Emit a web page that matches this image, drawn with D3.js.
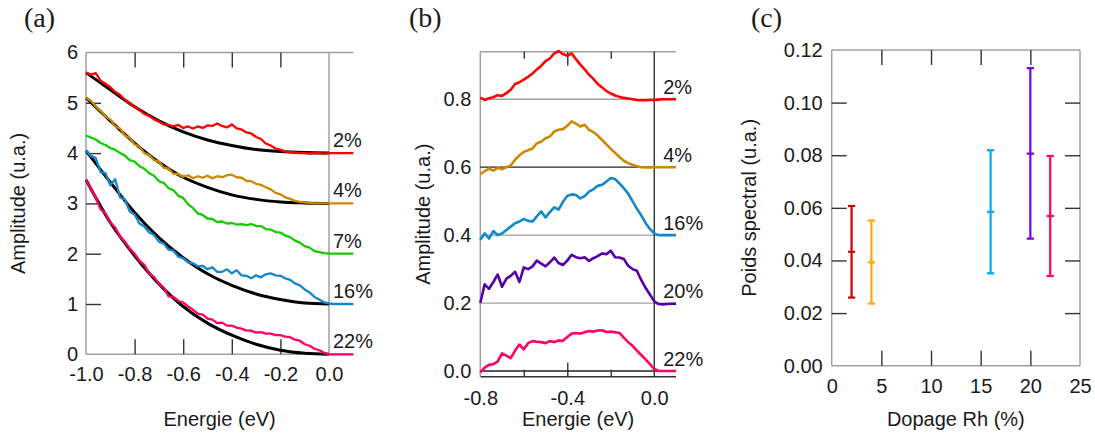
<!DOCTYPE html>
<html><head><meta charset="utf-8">
<script src="https://cdn.jsdelivr.net/npm/d3@7"></script>
<style>
html,body{margin:0;padding:0;background:#fff;}
svg{display:block;}
</style></head><body>
<svg id="chart" width="1095" height="439"></svg>
<script>
// ---------------- DATA ----------------
// Panel (a): raw spectra (offset by baseline) and fits
const energyA = [-1.00,-0.98,-0.96,-0.94,-0.92,-0.90,-0.88,-0.86,-0.84,-0.82,-0.80,-0.78,-0.76,-0.74,-0.72,-0.70,-0.68,-0.66,-0.64,-0.62,-0.60,-0.58,-0.56,-0.54,-0.52,-0.50,-0.48,-0.46,-0.44,-0.42,-0.40,-0.38,-0.36,-0.34,-0.32,-0.30,-0.28,-0.26,-0.24,-0.22,-0.20,-0.18,-0.16,-0.14,-0.12,-0.10,-0.08,-0.06,-0.04,-0.02,0.00,0.02,0.04,0.06,0.08,0.10];
const specA2 = [5.60,5.56,5.59,5.44,5.38,5.31,5.22,5.16,5.06,4.99,4.92,4.86,4.78,4.74,4.67,4.63,4.57,4.56,4.53,4.56,4.50,4.53,4.49,4.53,4.50,4.55,4.54,4.59,4.54,4.51,4.57,4.49,4.47,4.41,4.39,4.32,4.28,4.19,4.15,4.09,4.07,4.03,4.02,4.01,4.00,4.00,3.99,4.00,4.00,3.99,4.00,4.00,4.00,4.00,4.00,4.00];
const specA4 = [5.10,5.04,4.93,4.84,4.73,4.67,4.53,4.49,4.35,4.30,4.17,4.13,4.00,3.96,3.86,3.83,3.71,3.69,3.59,3.58,3.53,3.56,3.50,3.54,3.51,3.55,3.50,3.54,3.52,3.56,3.57,3.52,3.51,3.45,3.44,3.39,3.37,3.32,3.28,3.21,3.18,3.12,3.09,3.05,3.03,3.02,3.01,3.00,3.00,3.00,3.00,3.00,3.00,3.00,3.00,3.00];
const specA7 = [4.35,4.31,4.27,4.20,4.16,4.10,4.07,4.00,3.95,3.86,3.83,3.74,3.69,3.60,3.55,3.44,3.41,3.30,3.26,3.15,3.11,2.98,2.91,2.80,2.77,2.70,2.69,2.63,2.64,2.60,2.61,2.58,2.59,2.57,2.59,2.55,2.55,2.49,2.48,2.43,2.42,2.36,2.33,2.26,2.22,2.15,2.12,2.05,2.03,2.01,2.00,2.00,2.00,2.00,2.00,2.00];
const specA16 = [4.05,3.95,3.90,3.62,3.60,3.36,3.48,3.12,3.08,2.84,2.78,2.60,2.54,2.42,2.37,2.24,2.20,2.08,2.06,1.94,1.91,1.83,1.81,1.75,1.76,1.69,1.73,1.64,1.64,1.69,1.61,1.67,1.57,1.56,1.51,1.57,1.53,1.59,1.61,1.57,1.56,1.51,1.48,1.41,1.37,1.29,1.23,1.14,1.09,1.03,1.01,1.00,1.00,1.00,1.00,1.00];
const specA22 = [3.47,3.30,3.12,2.88,2.80,2.62,2.52,2.34,2.24,2.10,2.00,1.86,1.78,1.60,1.54,1.40,1.32,1.15,1.14,1.06,1.03,0.95,0.89,0.81,0.79,0.71,0.69,0.62,0.63,0.57,0.57,0.53,0.51,0.47,0.47,0.43,0.44,0.41,0.41,0.38,0.38,0.35,0.34,0.29,0.27,0.20,0.17,0.11,0.08,0.03,0.00,0.00,0.00,0.00,0.00,0.00];
const fitE = [-1.0,-0.9,-0.8,-0.7,-0.6,-0.5,-0.4,-0.3,-0.2,-0.1,0.0];
const fitA2 = [5.60,5.26,4.92,4.64,4.42,4.26,4.15,4.07,4.03,4.01,4.00];
const fitA4 = [5.10,4.64,4.20,3.82,3.52,3.32,3.17,3.08,3.03,3.01,3.00];
const fitA16 = [4.05,3.42,2.82,2.32,1.92,1.60,1.37,1.20,1.09,1.02,1.00];
const fitA22 = [3.47,2.62,1.96,1.40,0.95,0.62,0.38,0.20,0.08,0.02,0.00];
const labelsA = ["2%","4%","7%","16%","22%"];
const baseA = [4,3,2,1,0];
const ticksAy = [0,1,2,3,4,5,6];
const ticksAx = [-1.0,-0.8,-0.6,-0.4,-0.2,0.0];

// Panel (b): difference spectra
const energyB = [-0.80,-0.78,-0.76,-0.74,-0.72,-0.70,-0.68,-0.66,-0.64,-0.62,-0.60,-0.58,-0.56,-0.54,-0.52,-0.50,-0.48,-0.46,-0.44,-0.42,-0.40,-0.38,-0.36,-0.34,-0.32,-0.30,-0.28,-0.26,-0.24,-0.22,-0.20,-0.18,-0.16,-0.14,-0.12,-0.10,-0.08,-0.06,-0.04,-0.02,0.00,0.02,0.04,0.06,0.08,0.10];
const specB2 = [0.805,0.798,0.803,0.806,0.812,0.810,0.818,0.828,0.845,0.850,0.858,0.866,0.876,0.888,0.898,0.912,0.920,0.935,0.942,0.933,0.928,0.935,0.918,0.902,0.888,0.872,0.860,0.845,0.835,0.824,0.817,0.811,0.807,0.804,0.802,0.800,0.798,0.797,0.797,0.798,0.798,0.799,0.800,0.800,0.800,0.800];
const specB4 = [0.580,0.588,0.596,0.590,0.598,0.594,0.600,0.605,0.622,0.635,0.645,0.650,0.655,0.670,0.675,0.685,0.690,0.705,0.710,0.712,0.722,0.735,0.728,0.720,0.725,0.710,0.703,0.693,0.680,0.667,0.654,0.642,0.630,0.619,0.612,0.607,0.603,0.600,0.599,0.599,0.600,0.600,0.600,0.600,0.600,0.600];
const specB16 = [0.386,0.405,0.390,0.412,0.400,0.405,0.415,0.425,0.435,0.440,0.448,0.442,0.440,0.455,0.470,0.452,0.468,0.482,0.475,0.498,0.515,0.520,0.518,0.508,0.515,0.528,0.535,0.545,0.548,0.558,0.568,0.565,0.552,0.538,0.522,0.500,0.478,0.458,0.436,0.418,0.405,0.400,0.400,0.400,0.400,0.400];
const specB20 = [0.200,0.255,0.242,0.262,0.284,0.248,0.272,0.280,0.292,0.262,0.305,0.300,0.308,0.325,0.316,0.308,0.320,0.334,0.318,0.312,0.325,0.342,0.335,0.332,0.335,0.324,0.332,0.338,0.346,0.344,0.354,0.335,0.334,0.330,0.310,0.300,0.295,0.268,0.245,0.225,0.205,0.197,0.196,0.197,0.198,0.198];
const specB22 = [-0.004,0.010,0.018,0.020,0.028,0.052,0.045,0.038,0.060,0.078,0.064,0.082,0.088,0.086,0.085,0.082,0.088,0.085,0.090,0.089,0.100,0.110,0.112,0.110,0.114,0.118,0.116,0.119,0.120,0.115,0.116,0.114,0.112,0.098,0.085,0.074,0.060,0.047,0.034,0.020,0.006,0.000,0.000,0.000,0.000,0.000];
const labelsB = ["2%","4%","16%","20%","22%"];
const baseB = [0.8,0.6,0.4,0.2,0.0];
const ticksBy = [0.0,0.2,0.4,0.6,0.8];
const ticksBx = [-0.8,-0.4,0.0];

// Panel (c): spectral weight vs doping
const dopage = [2,4,16,20,22];
const poids = [0.0433,0.0393,0.0585,0.0806,0.0569];
const poidsLow = [0.0259,0.0236,0.0351,0.0483,0.0341];
const poidsHigh = [0.0607,0.0552,0.0819,0.1131,0.0797];
const ticksCy = [0.00,0.02,0.04,0.06,0.08,0.10,0.12];
const ticksCx = [0,5,10,15,20,25];

// ---------------- STYLE ----------------
const colorsA = ["#ff0000","#cc8800","#11cc00","#1188cc","#ff0066"];
const colorsB = ["#ff0000","#cc8800","#1188cc","#5500aa","#ff0066"];
const colorsC = ["#cc0000","#ffaa00","#00aaff","#7700ee","#ff0066"];
const FONT = "'Liberation Sans', Arial, sans-serif";
const SERIF = "'Liberation Serif', 'Times New Roman', serif";
const FS = 20;
const FRAME = "#a0a0a0";
const TICK = "#333";

const svg = d3.select("#chart");
svg.append("rect").attr("width",1095).attr("height",439).attr("fill","#fff");

function styleLabels(g){
  g.select(".domain").remove();
  g.selectAll(".tick line").remove();
  g.selectAll("text").attr("font-size",FS).attr("font-family",FONT).attr("fill","#1a1a1a");
}
function styleTicks(g){
  g.select(".domain").remove();
  g.selectAll("text").remove();
  g.selectAll(".tick line").attr("stroke",TICK).attr("stroke-width",1.4);
}
function hline(y, x0, x1, col, w){
  svg.append("line").attr("x1",x0).attr("x2",x1).attr("y1",y).attr("y2",y).attr("stroke",col).attr("stroke-width",w);
}
function vline(x, y0, y1, col, w){
  svg.append("line").attr("x1",x).attr("x2",x).attr("y1",y0).attr("y2",y1).attr("stroke",col).attr("stroke-width",w);
}
function title(txt, x, y, rot){
  const t = svg.append("text").text(txt).attr("font-family",FONT).attr("font-size",FS).attr("fill","#1a1a1a").attr("text-anchor","middle");
  if (rot) t.attr("transform",`translate(${x},${y}) rotate(-90)`);
  else t.attr("x",x).attr("y",y);
}
function panelLabel(txt, x, y){
  svg.append("text").text(txt).attr("x",x).attr("y",y).attr("font-family",SERIF).attr("font-size",28).attr("fill","#1a1a1a");
}
const fmt1 = d => d.toFixed(1);

// ---------------- PANEL (a) ----------------
const xA = d3.scaleLinear().domain([-1.0, 0.1]).range([86, 353.3]);
const yA = d3.scaleLinear().domain([0, 6]).range([354.3, 52.5]);
const [aL, aR] = xA.range(); const [aB, aT] = yA.range();
hline(aT, aL, aR, FRAME, 1.5);
hline(aB, aL, aR, FRAME, 1.5);
vline(aL, aT, aB, FRAME, 1.5);
vline(xA(0), aT, aB, FRAME, 1.5);

svg.append("g").attr("transform",`translate(${aL},0)`)
  .call(d3.axisLeft(yA).tickValues(ticksAy).tickSize(0).tickPadding(8).tickFormat(d3.format("d"))).call(styleLabels);
svg.append("g").attr("transform",`translate(${aL},0)`)
  .call(d3.axisLeft(yA).tickValues(ticksAy.slice(1,-1)).tickSize(-15)).call(styleTicks);
svg.append("g").attr("transform",`translate(0,${aB})`)
  .call(d3.axisBottom(xA).tickValues(ticksAx).tickSize(0).tickPadding(13).tickFormat(fmt1)).call(styleLabels);
svg.append("g").attr("transform",`translate(0,${aB})`)
  .call(d3.axisBottom(xA).tickValues(ticksAx.slice(1,-1)).tickSize(-15)).call(styleTicks);
svg.append("g").attr("transform",`translate(0,${aT})`)
  .call(d3.axisTop(xA).tickValues(ticksAx.slice(1,-1)).tickSize(-15)).call(styleTicks);

const fitLine = d3.line().x(d => xA(d[0])).y(d => yA(d[1])).curve(d3.curveMonotoneX);
[fitA2, fitA4, fitA16, fitA22].forEach(f => {
  svg.append("path").datum(fitE.map((e,j)=>[e,f[j]])).attr("d",fitLine)
    .attr("fill","none").attr("stroke","#000").attr("stroke-width",3);
});
const lineA = d3.line().x(d => xA(d[0])).y(d => yA(d[1]));
const specsA = [specA2, specA4, specA7, specA16, specA22];
specsA.forEach((s,i) => {
  svg.append("path").datum(energyA.map((e,j)=>[e,s[j]])).attr("d",lineA)
    .attr("fill","none").attr("stroke",colorsA[i]).attr("stroke-width",2.3).attr("stroke-linejoin","round");
});
labelsA.forEach((l,i) => {
  svg.append("text").text(l).attr("x", xA(0)+4).attr("y", yA(baseA[i])-6)
    .attr("font-family",FONT).attr("font-size",FS).attr("fill","#1a1a1a");
});
title("Energie (eV)", (aL+aR)/2, 426, false);
title("Amplitude (u.a.)", 25, (aT+aB)/2, true);
panelLabel("(a)", 24, 27);

// ---------------- PANEL (b) ----------------
const xB = d3.scaleLinear().domain([-0.8, 0.1]).range([480.3, 676]);
const yB = d3.scaleLinear().domain([-0.0168, 0.94]).range([376.7, 51.7]);
const [bL, bR] = xB.range(); const [bB, bT] = yB.range();
hline(bT, bL, bR, FRAME, 1.5);
hline(bB, bL, bR, "#333", 1.4);
vline(bL, bT, bB, FRAME, 1.5);
const baseColB = [FRAME, "#222", FRAME, FRAME, "#222"];
baseB.forEach((b,i) => hline(yB(b), bL, bR, baseColB[i], 1.3));
vline(xB(0), bT, bB, "#222", 1.3);

svg.append("g").attr("transform",`translate(${bL},0)`)
  .call(d3.axisLeft(yB).tickValues(ticksBy).tickSize(0).tickPadding(9).tickFormat(fmt1)).call(styleLabels);
svg.append("g").attr("transform",`translate(0,${bB})`)
  .call(d3.axisBottom(xB).tickValues(ticksBx).tickSize(0).tickPadding(14).tickFormat(fmt1)).call(styleLabels);
svg.append("g").attr("transform",`translate(0,${bB})`)
  .call(d3.axisBottom(xB).tickValues([-0.4]).tickSize(-14)).call(styleTicks);
svg.append("g").attr("transform",`translate(0,${bB})`)
  .call(d3.axisBottom(xB).tickValues([-0.6,-0.2]).tickSize(-7)).call(styleTicks);
svg.append("g").attr("transform",`translate(0,${bT})`)
  .call(d3.axisTop(xB).tickValues([-0.4]).tickSize(-14)).call(styleTicks);
svg.append("g").attr("transform",`translate(0,${bT})`)
  .call(d3.axisTop(xB).tickValues([-0.6,-0.2]).tickSize(-7)).call(styleTicks);

const lineB = d3.line().x(d => xB(d[0])).y(d => yB(d[1]));
[specB2, specB4, specB16, specB20, specB22].forEach((s,i) => {
  svg.append("path").datum(energyB.map((e,j)=>[e,s[j]])).attr("d",lineB)
    .attr("fill","none").attr("stroke",colorsB[i]).attr("stroke-width",2.6).attr("stroke-linejoin","round");
});
labelsB.forEach((l,i) => {
  svg.append("text").text(l).attr("x", xB(0)+9).attr("y", yB(baseB[i])-5)
    .attr("font-family",FONT).attr("font-size",FS).attr("fill","#1a1a1a");
});
title("Energie (eV)", (bL+bR)/2, 426, false);
title("Amplitude (u.a.)", 430, (bT+bB)/2, true);
panelLabel("(b)", 409, 27);

// ---------------- PANEL (c) ----------------
const xC = d3.scaleLinear().domain([0, 25]).range([831.7, 1080]);
const yC = d3.scaleLinear().domain([0, 0.12]).range([365.7, 50]);
const [cL, cR] = xC.range(); const [cB, cT] = yC.range();
hline(cT, cL, cR, FRAME, 1.5);
hline(cB, cL, cR, FRAME, 1.5);
vline(cL, cT, cB, FRAME, 1.5);
vline(cR, cT, cB, FRAME, 1.5);

svg.append("g").attr("transform",`translate(${cL},0)`)
  .call(d3.axisLeft(yC).tickValues(ticksCy).tickSize(0).tickPadding(9).tickFormat(d3.format(".2f"))).call(styleLabels);
svg.append("g").attr("transform",`translate(${cL},0)`)
  .call(d3.axisLeft(yC).tickValues(ticksCy.slice(1,-1)).tickSize(-15)).call(styleTicks);
svg.append("g").attr("transform",`translate(${cR},0)`)
  .call(d3.axisRight(yC).tickValues(ticksCy.slice(1,-1)).tickSize(-15)).call(styleTicks);
svg.append("g").attr("transform",`translate(0,${cB})`)
  .call(d3.axisBottom(xC).tickValues(ticksCx).tickSize(0).tickPadding(13).tickFormat(d3.format("d"))).call(styleLabels);
svg.append("g").attr("transform",`translate(0,${cB})`)
  .call(d3.axisBottom(xC).tickValues(ticksCx.slice(1,-1)).tickSize(-15)).call(styleTicks);
svg.append("g").attr("transform",`translate(0,${cT})`)
  .call(d3.axisTop(xC).tickValues(ticksCx.slice(1,-1)).tickSize(-15)).call(styleTicks);

const cap = 3.6;
dopage.forEach((d,i) => {
  const g = svg.append("g").attr("stroke",colorsC[i]).attr("stroke-width",2.2);
  const x = xC(d);
  g.append("line").attr("x1",x).attr("x2",x).attr("y1",yC(poidsLow[i])).attr("y2",yC(poidsHigh[i]));
  [poidsLow[i], poidsHigh[i], poids[i]].forEach(v => {
    g.append("line").attr("x1",x-cap).attr("x2",x+cap).attr("y1",yC(v)).attr("y2",yC(v));
  });
});
title("Dopage Rh (%)", (cL+cR)/2, 426, false);
title("Poids spectral (u.a.)", 756, (cT+cB)/2, true);
panelLabel("(c)", 751, 27);
</script>
</body></html>
